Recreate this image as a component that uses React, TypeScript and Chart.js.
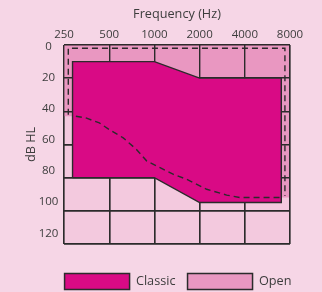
import React, { useEffect, useRef } from 'react';
import { Chart, registerables } from 'chart.js';

Chart.register(...registerables);

// ---- data ----
const FREQ_TICKS = [250, 500, 1000, 2000, 4000, 8000];
const DB_TICKS = [0, 20, 40, 60, 80, 100, 120];

// Classic fitting range (closed outline)
const CLASSIC_HZ = [285, 285, 1000, 2000, 7000, 7000, 2000, 1000, 285];
const CLASSIC_DB = [80, 10, 10, 20, 20, 95, 95, 80, 80];

// Open fitting range: lower limit (dashed curve)
const OPEN_LIMIT_HZ = [300, 350, 430, 500, 620, 760, 890, 1090, 1340, 1640, 2230, 3030, 3710, 7000];
const OPEN_LIMIT_DB = [43, 44, 47, 51, 56, 63, 70, 74, 78, 81, 87, 90.5, 92, 92];

// Open fitting range: dashed outer edge
const OPEN_EDGE_HZ = [267, 267, 7400, 7400];
const OPEN_EDGE_DB = [42, 2, 2, 91];

const LEGEND_LABELS = ['Classic', 'Open'];

// ---- styles ----
const PAGE_BG = '#f6d6e6';
const CELL_BG = '#f3c9de';
const OPEN_COLOR = '#e997c1';
const CLASSIC_COLOR = '#d90a85';
const LINE = '#2b2b2b';
const TEXT = '#3d3d3d';
const FONT = '"Open Sans", sans-serif';
const LEFT_PAD = 34;

const pts = (xs: number[], ys: number[]) => xs.map((x, i) => ({ x, y: ys[i] }));

const plotBg = {
  id: 'plotBg',
  beforeDraw(chart: any) {
    const { ctx, chartArea: a } = chart;
    ctx.save();
    ctx.fillStyle = CELL_BG;
    ctx.fillRect(a.left, a.top, a.width, a.height);
    ctx.restore();
  },
};

// redraw the grid on top of the "Open" fill, below "Classic"
const gridOverOpen = {
  id: 'gridOverOpen',
  afterDatasetDraw(chart: any, args: any) {
    if (args.index !== 0) return;
    chart.scales.x.drawGrid(chart.chartArea);
    chart.scales.y.drawGrid(chart.chartArea);
  },
};

export default function App() {
  const ref = useRef<HTMLCanvasElement | null>(null);

  useEffect(() => {
    if (!ref.current) return;
    const fMin = FREQ_TICKS[0];
    const fMax = FREQ_TICKS[FREQ_TICKS.length - 1];
    const dTop = DB_TICKS[0];
    const n = OPEN_LIMIT_HZ.length;
    const openFill = [
      { x: fMin, y: OPEN_LIMIT_DB[0] },
      { x: fMin, y: dTop },
      { x: fMax, y: dTop },
      { x: fMax, y: OPEN_LIMIT_DB[n - 1] },
      ...pts(OPEN_LIMIT_HZ, OPEN_LIMIT_DB).reverse(),
    ];

    const chart = new Chart(ref.current, {
      type: 'line',
      data: {
        datasets: [
          {
            label: 'Open',
            data: openFill,
            fill: 'shape',
            backgroundColor: OPEN_COLOR,
            borderWidth: 0,
            pointRadius: 0,
            order: 3,
          },
          {
            label: 'Classic',
            data: pts(CLASSIC_HZ, CLASSIC_DB),
            fill: 'shape',
            backgroundColor: CLASSIC_COLOR,
            borderColor: LINE,
            borderWidth: 1.4,
            pointRadius: 0,
            order: 2,
          },
          {
            label: 'Open edge',
            data: pts(OPEN_EDGE_HZ, OPEN_EDGE_DB),
            fill: false,
            borderColor: LINE,
            borderWidth: 1.4,
            borderDash: [6, 4],
            pointRadius: 0,
            order: 1,
          },
          {
            label: 'Open limit',
            data: pts(OPEN_LIMIT_HZ, OPEN_LIMIT_DB),
            fill: false,
            borderColor: LINE,
            borderWidth: 1.4,
            borderDash: [6, 4],
            pointRadius: 0,
            order: 1,
          },
        ],
      },
      options: {
        animation: false,
        responsive: true,
        maintainAspectRatio: false,
        events: [],
        layout: { padding: { left: LEFT_PAD, right: 0, top: 0, bottom: 0 } },
        scales: {
          x: {
            type: 'logarithmic',
            position: 'top',
            min: fMin,
            max: fMax,
            afterBuildTicks: (s: any) => {
              s.ticks = FREQ_TICKS.map((v) => ({ value: v }));
            },
            afterFit: (s: any) => {
              s.height = 45;
            },
            ticks: {
              autoSkip: false,
              maxRotation: 0,
              padding: 3.8,
              color: TEXT,
              font: { family: FONT, size: 11.5 },
              callback: (v: any) => String(v),
            },
            grid: { color: LINE, lineWidth: 1.4, drawTicks: false },
            border: { display: false },
            title: {
              display: true,
              text: 'Frequency (Hz)',
              color: TEXT,
              font: { family: FONT, size: 12.7 },
              padding: { top: 6.9, bottom: 0 },
            },
          },
          y: {
            type: 'linear',
            position: 'right',
            reverse: true,
            min: DB_TICKS[0],
            max: DB_TICKS[DB_TICKS.length - 1],
            afterBuildTicks: (s: any) => {
              s.ticks = DB_TICKS.map((v) => ({ value: v }));
            },
            afterFit: (s: any) => {
              s.width = 32;
            },
            ticks: { display: false },
            grid: { color: LINE, lineWidth: 1.4, drawTicks: false },
            border: { display: false },
          },
          yl: {
            type: 'linear',
            position: 'left',
            reverse: true,
            min: -1.1,
            max: 126.9,
            afterBuildTicks: (s: any) => {
              s.ticks = DB_TICKS.map((v) => ({ value: v }));
            },
            afterFit: (s: any) => {
              s.width = 64 - LEFT_PAD;
            },
            ticks: {
              crossAlign: 'center',
              padding: 5.6,
              color: TEXT,
              font: { family: FONT, size: 11.5 },
            },
            grid: { display: false, drawTicks: false },
            border: { display: false },
            title: {
              display: true,
              text: 'dB HL',
              color: TEXT,
              font: { family: FONT, size: 12.7 },
              padding: { top: -9.9, bottom: 0 },
            },
          },
        },
        plugins: {
          tooltip: { enabled: false },
          legend: {
            position: 'bottom',
            align: 'center',
            fullSize: true,
            maxHeight: 48,
            title: {
              display: true,
              text: '',
              font: { size: 1 },
              padding: { top: 16.2, bottom: 0 },
            },
            labels: {
              boxWidth: 65,
              boxHeight: 16,
              padding: 12,
              color: TEXT,
              font: { family: FONT, size: 12.7 },
              generateLabels: () =>
                LEGEND_LABELS.map((text, i) => ({
                  text,
                  fillStyle: i === 0 ? CLASSIC_COLOR : OPEN_COLOR,
                  strokeStyle: LINE,
                  lineWidth: 1.5,
                  hidden: false,
                  datasetIndex: i === 0 ? 1 : 0,
                  fontColor: TEXT,
                })),
            },
          },
        },
      } as any,
      plugins: [plotBg, gridOverOpen],
    });
    return () => chart.destroy();
  }, []);

  return (
    <div
      style={{
        position: 'fixed',
        left: 0,
        top: 0,
        width: 322,
        height: 292,
        background: PAGE_BG,
      }}
    >
      <canvas ref={ref} />
    </div>
  );
}
